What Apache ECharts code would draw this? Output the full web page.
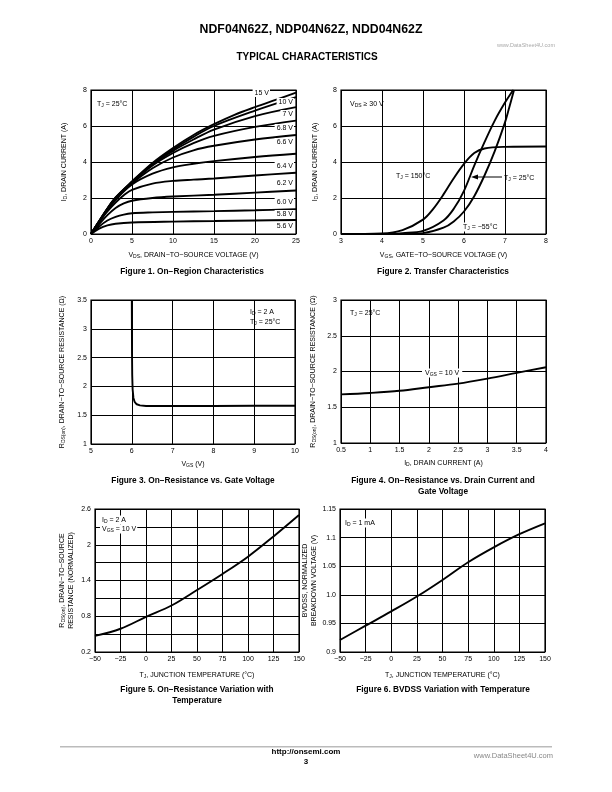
<!DOCTYPE html>
<html><head><meta charset="utf-8">
<script src="https://cdn.jsdelivr.net/npm/echarts@6/dist/echarts.min.js"></script>
<style>html,body{margin:0;padding:0;background:#fff}#c{width:612px;height:792px}</style>
</head><body><div id="c"></div>
<script>
// ---------- DATA ----------
// Figure 1: On-Region Characteristics, ID (A) vs VDS (V), per VGS
const f1Names = ['5.6 V','5.8 V','6.0 V','6.2 V','6.4 V','6.6 V','6.8 V','7 V','10 V','15 V'];
const f1_5v6 = [[0,0],[1,0.3],[2,0.48],[3,0.57],[5,0.64],[10,0.69],[15,0.72],[20,0.75],[25,0.78]];
const f1_5v8 = [[0,0],[1,0.42],[2,0.75],[3,0.95],[4,1.08],[5,1.15],[7.5,1.2],[10,1.23],[15,1.27],[20,1.32],[25,1.38]];
const f1_6v0 = [[0,0],[1,0.55],[2,1.05],[3,1.45],[4,1.7],[5,1.85],[7.5,2.0],[10,2.08],[15,2.18],[20,2.3],[25,2.42]];
const f1_6v2 = [[0,0],[1,0.65],[2,1.25],[3,1.75],[4,2.15],[5,2.45],[7.5,2.8],[10,2.95],[12.5,3.02],[15,3.08],[20,3.25],[25,3.4]];
const f1_6v4 = [[0,0],[1,0.68],[2,1.32],[3,1.9],[5,2.75],[7.5,3.35],[10,3.7],[12.5,3.9],[15,4.05],[20,4.28],[25,4.46]];
const f1_6v6 = [[0,0],[1,0.7],[2,1.35],[3,1.95],[5,2.8],[7.5,3.65],[10,4.25],[12.5,4.65],[15,4.9],[20,5.25],[25,5.5]];
const f1_6v8 = [[0,0],[1,0.7],[2,1.38],[3,1.98],[5,2.85],[7.5,3.8],[10,4.5],[12.5,5.05],[15,5.45],[20,5.95],[25,6.3]];
const f1_7v  = [[0,0],[1,0.7],[2,1.4],[3,2.0],[5,2.88],[7.5,3.85],[10,4.62],[12.5,5.25],[15,5.8],[20,6.55],[25,7.05]];
const f1_10v = [[0,0],[1,0.72],[2,1.42],[3,2.02],[5,2.9],[7.5,3.9],[10,4.7],[12.5,5.4],[15,6.0],[20,6.85],[25,7.6]];
const f1_15v = [[0,0],[1,0.72],[2,1.42],[3,2.03],[5,2.92],[7.5,3.95],[10,4.78],[12.5,5.5],[15,6.1],[17.5,6.62],[20,7.05],[22.5,7.45],[25,7.85]];

// Figure 2: Transfer Characteristics, ID (A) vs VGS (V)
const f2_150 = [[3,0],[4,0.03],[4.5,0.22],[5,0.8],[5.25,1.4],[5.5,2.2],[5.75,3.1],[6,3.9],[6.25,4.5],[6.5,4.75],[7,4.84],[8,4.86]];
const f2_25  = [[3,0],[4,0],[4.5,0.05],[5,0.17],[5.5,0.75],[5.75,1.4],[6,2.4],[6.25,3.8],[6.5,5.1],[6.75,6.3],[7,7.3],[7.2,8.0]];
const f2_m55 = [[3,0],[4.5,0],[5,0.05],[5.5,0.35],[5.75,0.7],[6,1.25],[6.25,2.1],[6.5,3.25],[6.75,4.6],[7,6.2],[7.1,7.0],[7.22,8.0]];

// Figure 3: RDS(on) (ohm) vs VGS (V)
const f3_rds = [[6.0,3.5],[6.005,2.6],[6.01,2.2],[6.02,1.95],[6.04,1.8],[6.07,1.73],[6.12,1.69],[6.2,1.67],[6.35,1.66],[7,1.66],[8,1.66],[9,1.665],[10,1.665]];

// Figure 4: RDS(on) (ohm) vs ID (A)
const f4_rds = [[0.5,1.68],[1,1.70],[1.5,1.73],[2,1.78],[2.5,1.83],[3,1.90],[3.5,1.98],[4,2.06]];

// Figure 5: normalized RDS(on) vs TJ (C)
const f5_rds = [[-50,0.47],[-25,0.59],[0,0.79],[25,0.98],[50,1.24],[75,1.51],[100,1.80],[125,2.14],[150,2.50]];
const f5YLabels = [0.2, 0.8, 1.4, 2, 2.6];

// Figure 6: normalized BVDSS vs TJ (C)
const f6_bv = [[-50,0.921],[-25,0.946],[0,0.971],[25,0.997],[50,1.026],[75,1.057],[100,1.083],[125,1.106],[150,1.125]];
const f6YLabels = ['0.9','0.95','1.0','1.05','1.1','1.15'];

// ---------- CHART ----------
const FONT = '"Liberation Sans", Arial, Helvetica, sans-serif';
const richA = {
  n: {fontSize: 7, fontFamily: FONT, color: '#000'},
  s: {fontSize: 5, fontFamily: FONT, color: '#000', padding: [3, 0, 0, 0]}
};
const richG = {
  n: {fontSize: 7, fontFamily: FONT, fill: '#000'},
  s: {fontSize: 5, fontFamily: FONT, fill: '#000', padding: [3, 0, 0, 0]}
};
const minus = v => (v < 0 ? '\u2212' + (-v) : String(v));

const grids = [
  {left: 91, top: 90, width: 205, height: 144},
  {left: 341, top: 90, width: 205, height: 144},
  {left: 91, top: 300, width: 204, height: 144},
  {left: 341, top: 300, width: 205, height: 143},
  {left: 95, top: 509, width: 204, height: 143},
  {left: 340, top: 509, width: 205, height: 143}
].map(g => Object.assign({show: true, borderColor: '#000', borderWidth: 1.2, backgroundColor: 'transparent', containLabel: false}, g));

function axis(i, min, max, interval, name, gap, fmt) {
  return {
    type: 'value', gridIndex: i, min, max, interval,
    name, nameLocation: 'middle', nameGap: gap,
    nameTextStyle: {fontSize: 7, fontFamily: FONT, color: '#000', rich: richA, lineHeight: 9},
    axisLine: {show: false}, axisTick: {show: false},
    splitLine: {show: true, lineStyle: {color: '#000', width: 1}},
    axisLabel: {fontSize: 7, fontFamily: FONT, color: '#000', margin: 4, formatter: fmt || undefined, showMinLabel: true, showMaxLabel: true}
  };
}

const xAxis = [
  axis(0, 0, 25, 5, '{n|V}{s|DS}{n|, DRAIN\u2212TO\u2212SOURCE VOLTAGE (V)}', 17),
  axis(1, 3, 8, 1, '{n|V}{s|GS}{n|, GATE\u2212TO\u2212SOURCE VOLTAGE (V)}', 17),
  axis(2, 5, 10, 1, '{n|V}{s|GS}{n| (V)}', 16),
  axis(3, 0.5, 4, 0.5, '{n|I}{s|D}{n|, DRAIN CURRENT (A)}', 16),
  axis(4, -50, 150, 25, '{n|T}{s|J}{n|, JUNCTION TEMPERATURE (\u00B0C)}', 19, minus),
  axis(5, -50, 150, 25, '{n|T}{s|J}{n|, JUNCTION TEMPERATURE (\u00B0C)}', 19, minus)
];
const yAxis = [
  axis(0, 0, 8, 2, '{n|I}{s|D}{n|, DRAIN CURRENT (A)}', 22),
  axis(1, 0, 8, 2, '{n|I}{s|D}{n|, DRAIN CURRENT (A)}', 21),
  axis(2, 1, 3.5, 0.5, '{n|R}{s|DS(on)}{n|, DRAIN\u2212TO\u2212SOURCE RESISTANCE (\u03A9)}', 24),
  axis(3, 1, 3, 0.5, '{n|R}{s|DS(on)}{n|, DRAIN\u2212TO\u2212SOURCE RESISTANCE (\u03A9)}', 23),
  axis(4, 0.2, 2.6, 0.3, '{n|R}{s|DS(on)}{n|, DRAIN\u2212TO\u2212SOURCE}\n{n|RESISTANCE (NORMALIZED)}', 19,
       v => (f5YLabels.some(t => Math.abs(t - v) < 1e-6) ? String(+v.toFixed(1)) : '')),
  axis(5, 0.9, 1.15, 0.05, '{n|BVDSS, NORMALIZED}\n{n|BREAKDOWN VOLTAGE (V)}', 18,
       v => { const k = Math.round((v - 0.9) / 0.05); return f6YLabels[k] || ''; })
];

function line(i, data, smooth) {
  return {type: 'line', xAxisIndex: i, yAxisIndex: i, data, symbol: 'none', showSymbol: false,
    smooth: smooth === undefined ? 0.35 : smooth, clip: true, silent: true,
    lineStyle: {color: '#000', width: 1.9}};
}
const series = [
  line(0, f1_5v6), line(0, f1_5v8), line(0, f1_6v0), line(0, f1_6v2), line(0, f1_6v4),
  line(0, f1_6v6), line(0, f1_6v8), line(0, f1_7v), line(0, f1_10v), line(0, f1_15v),
  line(1, f2_150), line(1, f2_25), line(1, f2_m55),
  line(2, f3_rds, false),
  line(3, f4_rds),
  line(4, f5_rds),
  line(5, f6_bv)
];

// ---------- TEXT / ANNOTATIONS ----------
function T(x, y, text, o) {
  o = o || {};
  return {type: 'text', x, y, z: 100, silent: true, style: Object.assign({
    text, fill: '#000', fontSize: 7, fontFamily: FONT, align: 'left', verticalAlign: 'middle', rich: richG
  }, o)};
}
const B = (x, y, text, size, o) => T(x, y, text, Object.assign({fontWeight: 'bold', fontSize: size || 8.3, align: 'center'}, o || {}));
const WB = {backgroundColor: '#fff', padding: [1, 1, 0, 2]};

// Figure 1 curve labels (right side)
const f1LabelY = [226, 214, 202, 183, 166, 142, 128, 114, 102, 93];
const f1Labels = f1Names.map((n, k) => T(k === 9 ? 270 : 294, f1LabelY[k], n, Object.assign({align: 'right'}, WB)));

const graphics = [
  B(311, 30, 'NDF04N62Z, NDP04N62Z, NDD04N62Z', 12.3),
  T(555, 45, 'www.DataSheet4U.com', {fontSize: 5.5, fill: '#aaa', align: 'right'}),
  B(307, 57, 'TYPICAL CHARACTERISTICS', 10),

  T(97, 104, '{n|T}{s|J}{n| = 25\u00B0C}'),
  ...f1Labels,
  B(192, 272, 'Figure 1. On\u2212Region Characteristics'),

  T(350, 104, '{n|V}{s|DS}{n| \u2265 30 V}'),
  T(396, 176, '{n|T}{s|J}{n| = 150\u00B0C}'),
  T(504, 178, '{n|T}{s|J}{n| = 25\u00B0C}'),
  T(461, 227, '{n|T}{s|J}{n| = \u221255\u00B0C}', WB),
  {type: 'line', z: 100, silent: true, shape: {x1: 502, y1: 177, x2: 476, y2: 177}, style: {stroke: '#000', lineWidth: 1}},
  {type: 'polygon', z: 100, silent: true, shape: {points: [[471, 177], [478, 174.5], [478, 179.5]]}, style: {fill: '#000'}},
  B(443, 272, 'Figure 2. Transfer Characteristics'),

  T(250, 312, '{n|I}{s|D}{n| = 2 A}'),
  T(250, 322, '{n|T}{s|J}{n| = 25\u00B0C}'),
  B(193, 481, 'Figure 3. On\u2212Resistance vs. Gate Voltage'),

  T(350, 313, '{n|T}{s|J}{n| = 25\u00B0C}'),
  T(422, 373, '{n|V}{s|GS}{n| = 10 V}', {backgroundColor: '#fff', padding: [1, 3, 0, 3]}),
  B(443, 481, 'Figure 4. On\u2212Resistance vs. Drain Current and'),
  B(443, 492, 'Gate Voltage'),

  T(100, 520, '{n|I}{s|D}{n| = 2 A}', WB),
  T(100, 529, '{n|V}{s|GS}{n| = 10 V}', WB),
  B(197, 690, 'Figure 5. On\u2212Resistance Variation with'),
  B(197, 701, 'Temperature'),

  T(343, 523, '{n|I}{s|D}{n| = 1 mA}', WB),
  B(443, 690, 'Figure 6. BVDSS Variation with Temperature'),

  {type: 'rect', z: 100, silent: true, shape: {x: 60, y: 746, width: 492, height: 1.6}, style: {fill: '#bbb'}},
  B(306, 752, 'http://onsemi.com', 8),
  B(306, 762, '3', 8),
  T(553, 756, 'www.DataSheet4U.com', {fontSize: 7.5, fill: '#888', align: 'right'})
];

const chart = echarts.init(document.getElementById('c'), null, {renderer: 'canvas'});
chart.setOption({
  animation: false,
  backgroundColor: '#fff',
  textStyle: {fontFamily: FONT},
  grid: grids, xAxis, yAxis, series,
  graphic: graphics
});
</script></body></html>
